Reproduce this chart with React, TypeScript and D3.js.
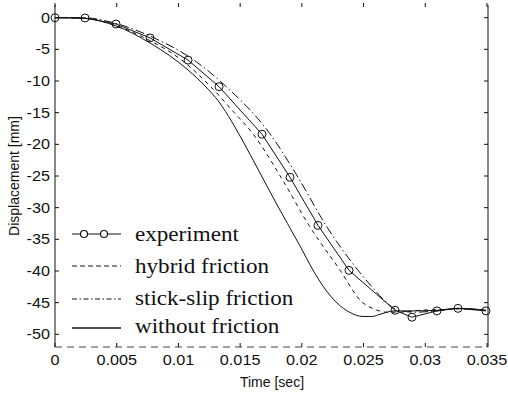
import React from "react";
import * as d3 from "d3";

// ---- data ----
const expTime = [0, 0.00243, 0.00494, 0.0077, 0.01078, 0.01329, 0.01677, 0.01904, 0.02131, 0.02382, 0.02755, 0.02892, 0.03095, 0.03265, 0.03492];
const expDisp = [0, -0.05, -1.0, -3.2, -6.7, -10.9, -18.4, -25.2, -32.8, -39.9, -46.2, -47.3, -46.3, -45.9, -46.3];

const hybTime = [0, 0.00243, 0.00478, 0.00737, 0.01029, 0.01264, 0.01434, 0.01604, 0.01831, 0.02058, 0.02309, 0.02487, 0.02585, 0.02682, 0.02795, 0.02957, 0.03119, 0.03281, 0.03492];
const hybDisp = [0, -0.1, -1.15, -3.3, -6.75, -10.95, -14.6, -18.35, -25.2, -32.8, -39.85, -44.9, -46.0, -46.5, -46.5, -46.2, -46.1, -46.0, -46.2];

const sslTime = [0, 0.00243, 0.0051, 0.00802, 0.01126, 0.01385, 0.01742, 0.01969, 0.02195, 0.02439, 0.02568, 0.02682, 0.02779, 0.02917, 0.03095, 0.03265, 0.03492];
const sslDisp = [0, -0.03, -1.0, -3.2, -6.7, -10.85, -18.35, -25.2, -32.8, -39.5, -42.5, -44.9, -46.2, -46.5, -46.3, -45.9, -46.2];

const nofTime = [0, 0.00243, 0.00494, 0.00778, 0.01078, 0.01215, 0.01329, 0.01434, 0.01539, 0.01661, 0.01782, 0.01985, 0.0209, 0.02188, 0.02285, 0.0239, 0.02495, 0.02568, 0.02641, 0.02747, 0.02892, 0.03095, 0.03265, 0.03492];
const nofDisp = [0, -0.13, -1.31, -4.1, -8.26, -10.78, -13.31, -16.47, -20.1, -24.52, -28.94, -36.05, -39.84, -42.84, -45.05, -46.55, -47.18, -47.18, -46.79, -46.31, -46.3, -46.2, -45.9, -46.2];

const xTicks = [0, 0.005, 0.01, 0.015, 0.02, 0.025, 0.03, 0.035];
const xTickLabels = ["0", "0.005", "0.01", "0.015", "0.02", "0.025", "0.03", "0.035"];
const yTicks = [0, -5, -10, -15, -20, -25, -30, -35, -40, -45, -50];
const yTickLabels = ["0", "-5", "-10", "-15", "-20", "-25", "-30", "-35", "-40", "-45", "-50"];
const legendLabels = ["experiment", "hybrid friction", "stick-slip friction", "without friction"];
const xLabel = "Time [sec]";
const yLabel = "Displacement [mm]";

export default function App() {
  const W = 508, H = 394;
  const left = 55, right = 487, top = 5, bottom = 347;
  const x = d3.scaleLinear().domain([0, 0.035]).range([left, right]);
  const y = d3.scaleLinear().domain([-52, 2]).range([bottom, top]);

  const mk = (t: number[], v: number[]) => t.map((d, i) => [d, v[i]] as [number, number]);
  const lineLin = d3.line<[number, number]>().x(d => x(d[0])).y(d => y(d[1]));
  const lineSmooth = d3.line<[number, number]>().x(d => x(d[0])).y(d => y(d[1])).curve(d3.curveMonotoneX);

  const exp = mk(expTime, expDisp);
  const hyb = mk(hybTime, hybDisp);
  const ssl = mk(sslTime, sslDisp);
  const nof = mk(nofTime, nofDisp);

  const sans = "'Liberation Sans', Arial, sans-serif";
  const serif = "'Liberation Serif', 'Times New Roman', serif";
  const stroke = "#111";
  const tickLen = 4;

  const legY = [234, 266, 299, 328];
  const legBase = [241, 273, 305, 333];
  const lx0 = 72, lx1 = 121, textX = 135;

  return (
    <svg width={W} height={H} style={{ position: "absolute", left: 0, top: 0, background: "#fff" }}>
      <rect x={0} y={0} width={W} height={H} fill="#fff" />
      {/* frame */}
      <line x1={left} y1={top} x2={left} y2={bottom} stroke={stroke} strokeWidth={1} />
      <line x1={right + 1} y1={top} x2={right + 1} y2={bottom} stroke={stroke} strokeWidth={1} />
      <line x1={left} y1={bottom} x2={right + 1} y2={bottom} stroke="#444" strokeWidth={1} strokeDasharray="7,5" />

      {/* x ticks */}
      {xTicks.map((t, i) => (
        <g key={"xt" + i}>
          <line x1={x(t)} x2={x(t)} y1={bottom} y2={bottom - tickLen} stroke={stroke} />
          <line x1={x(t)} x2={x(t)} y1={top - 2} y2={top + 2} stroke={stroke} />
          <text x={x(t)} y={365} fontFamily={sans} fontSize={15} textAnchor="middle" fill="#111"
            transform={`translate(${x(t)},0) scale(1.08,1) translate(${-x(t)},0)`}>{xTickLabels[i]}</text>
        </g>
      ))}
      {/* y ticks */}
      {yTicks.map((v, i) => (
        <g key={"yt" + i}>
          <line x1={left} x2={left + tickLen} y1={y(v)} y2={y(v)} stroke={stroke} />
          <line x1={right + 1} x2={right + 1 - tickLen} y1={y(v)} y2={y(v)} stroke={stroke} />
          <text x={50} y={y(v) + 5} fontFamily={sans} fontSize={15} textAnchor="end" fill="#111"
            transform={`translate(50,0) scale(1.08,1) translate(-50,0)`}>{yTickLabels[i]}</text>
        </g>
      ))}

      {/* curves */}
      <path d={lineSmooth(nof) || ""} fill="none" stroke={stroke} strokeWidth={1} />
      <path d={lineSmooth(hyb) || ""} fill="none" stroke={stroke} strokeWidth={1} strokeDasharray="4,4" />
      <path d={lineSmooth(ssl) || ""} fill="none" stroke={stroke} strokeWidth={1} strokeDasharray="9,3,1.5,3" />
      <path d={lineLin(exp) || ""} fill="none" stroke={stroke} strokeWidth={1} />
      {exp.map((d, i) => (
        <circle key={"c" + i} cx={x(d[0])} cy={y(d[1])} r={4} fill="none" stroke={stroke} strokeWidth={1} />
      ))}

      {/* legend */}
      <line x1={lx0} x2={lx1} y1={legY[0]} y2={legY[0]} stroke={stroke} strokeWidth={1.2} />
      <circle cx={84} cy={legY[0]} r={3.5} fill="#fff" stroke={stroke} strokeWidth={1.2} />
      <circle cx={104} cy={legY[0]} r={3.5} fill="#fff" stroke={stroke} strokeWidth={1.2} />
      <line x1={lx0} x2={lx1} y1={legY[1]} y2={legY[1]} stroke={stroke} strokeWidth={1.2} strokeDasharray="5,3" />
      <line x1={lx0} x2={lx1} y1={legY[2]} y2={legY[2]} stroke={stroke} strokeWidth={1.2} strokeDasharray="5,2.5,1.5,2.5" />
      <line x1={lx0} x2={lx1} y1={legY[3]} y2={legY[3]} stroke={stroke} strokeWidth={1.5} />
      {legendLabels.map((s, i) => (
        <text key={"lg" + i} x={textX} y={legBase[i]} fontFamily={serif} fontSize={21} fill="#111"
          transform={`translate(${textX},0) scale(1.1,1) translate(${-textX},0)`}>{s}</text>
      ))}

      {/* axis labels */}
      <text x={272} y={387} fontFamily={sans} fontSize={14} textAnchor="middle" fill="#111">{xLabel}</text>
      <text transform={`translate(19,176) rotate(-90)`} fontFamily={sans} fontSize={14} textAnchor="middle" fill="#111">{yLabel}</text>
    </svg>
  );
}
